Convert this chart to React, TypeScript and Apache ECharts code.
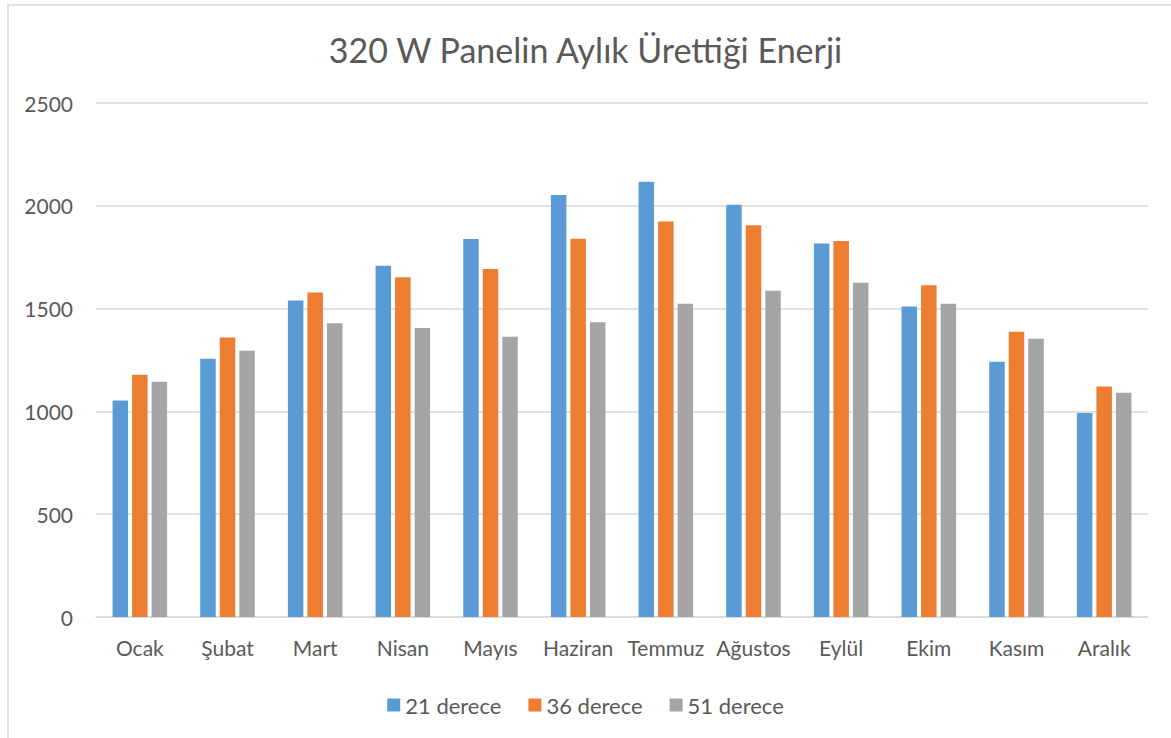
import React, { useEffect, useRef } from "react";
import * as echarts from "echarts";

const title = "320 W Panelin Aylık Ürettiği Enerji";
const months = ["Ocak", "Şubat", "Mart", "Nisan", "Mayıs", "Haziran", "Temmuz", "Ağustos", "Eylül", "Ekim", "Kasım", "Aralık"];
const seriesNames = ["21 derece", "36 derece", "51 derece"];
const deg21 = [1053, 1256, 1540, 1709, 1838, 2052, 2117, 2005, 1817, 1510, 1241, 992];
const deg36 = [1178, 1359, 1578, 1652, 1693, 1840, 1924, 1905, 1829, 1613, 1388, 1121];
const deg51 = [1144, 1295, 1429, 1406, 1363, 1434, 1523, 1587, 1626, 1523, 1353, 1091];
const colors = ["#5B9BD5", "#ED7D31", "#A5A5A5"];

const FONT = "Lato, 'Open Sans', sans-serif";

export default function App() {
  const ref = useRef<HTMLDivElement>(null);
  useEffect(() => {
    if (!ref.current) return;
    const chart = echarts.init(ref.current, null, { renderer: "svg" });
    const data = [deg21, deg36, deg51];
    chart.setOption({
      animation: false,
      backgroundColor: "#ffffff",
      textStyle: { fontFamily: FONT, color: "#595959" },
      title: {
        text: title,
        left: "center",
        top: 27,
        textStyle: { fontSize: 34, fontWeight: "normal", color: "#595959", fontFamily: FONT },
      },
      graphic: [
        {
          type: "rect",
          shape: { x: 8, y: 5, width: 1200, height: 800 },
          style: { fill: "none", stroke: "#d9d9d9", lineWidth: 1.5 },
          silent: true,
          z: 100,
        },
      ],
      legend: {
        data: seriesNames,
        top: 689,
        left: "center",
        itemWidth: 13,
        itemHeight: 13,
        itemGap: 27,
        icon: "rect",
        textStyle: { fontSize: 22, color: "#595959", fontFamily: FONT },
      },
      grid: { left: 96, right: 23, top: 103, bottom: 121, containLabel: false },
      xAxis: {
        type: "category",
        data: months,
        axisLine: { lineStyle: { color: "#d9d9d9", width: 1.5 } },
        axisTick: { show: false },
        axisLabel: { fontSize: 21, color: "#595959", margin: 20, fontFamily: FONT, interval: 0 },
      },
      yAxis: {
        type: "value",
        min: 0,
        max: 2500,
        interval: 500,
        axisLine: { show: false },
        axisTick: { show: false },
        splitLine: { lineStyle: { color: "#d9d9d9", width: 1.5 } },
        axisLabel: {
          fontSize: 21,
          color: "#595959",
          margin: 23,
          fontFamily: FONT,
          formatter: (v: number) => String(v),
        },
      },
      series: seriesNames.map((name, i) => ({
        name,
        type: "bar",
        data: data[i],
        barWidth: 15.5,
        barGap: "26%",
        itemStyle: { color: colors[i] },
      })),
    });
    return () => chart.dispose();
  }, []);
  return (
    <div
      ref={ref}
      style={{ position: "absolute", left: 0, top: 0, width: 1171, height: 738 }}
    />
  );
}
